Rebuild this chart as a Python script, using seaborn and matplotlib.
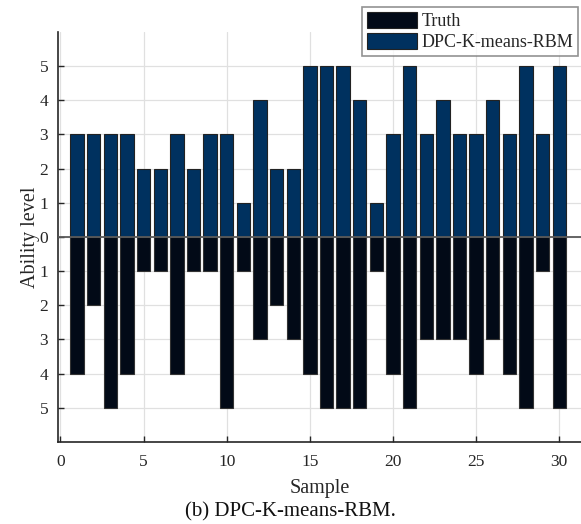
import numpy as np
import pandas as pd
import seaborn as sns
import matplotlib.pyplot as plt
from matplotlib.patches import Patch

# ability levels per sample
samples = list(range(1, 31))
dpc_levels = [3, 3, 3, 3, 2, 2, 3, 2, 3, 3, 1, 4, 2, 2, 5, 5, 5, 4, 1, 3,
              5, 3, 4, 3, 3, 4, 3, 5, 3, 5]
truth_levels = [4, 2, 5, 4, 1, 1, 4, 1, 1, 5, 1, 3, 2, 3, 4, 5, 5, 5, 1, 4,
                5, 3, 3, 3, 4, 3, 4, 5, 1, 5]
y_ticks = [-5, -4, -3, -2, -1, 0, 1, 2, 3, 4, 5]
x_ticks = [0, 5, 10, 15, 20, 25, 30]

DPC_COLOR = "#00315f"
TRUTH_COLOR = "#020a17"

sns.set_style("white")
plt.rcParams["font.family"] = ["Liberation Serif", "DejaVu Serif"]

df = pd.DataFrame({"sample": samples, "dpc": dpc_levels,
                   "truth": [-v for v in truth_levels]})

fig = plt.figure(figsize=(5.81, 5.24), dpi=100)
ax = fig.add_axes([0.0998, 0.1565, 0.9, 0.7825])

sns.barplot(data=df, x="sample", y="dpc", native_scale=True, width=0.8,
            color=DPC_COLOR, edgecolor="#222222", linewidth=0.8,
            saturation=1, ax=ax, zorder=2)
sns.barplot(data=df, x="sample", y="truth", native_scale=True, width=0.8,
            color=TRUTH_COLOR, edgecolor="#333333", linewidth=0.8,
            saturation=1, ax=ax, zorder=2)

ax.axhline(0, color="#5a5a5a", lw=1.3, zorder=3)
ax.set_xlim(-0.15, 31.3)
ax.set_ylim(-6, 6)
ax.set_xticks(x_ticks)
ax.set_yticks(y_ticks)
ax.set_yticklabels([str(abs(v)) for v in y_ticks])
ax.grid(True, color="#e0e0e0", lw=0.9)
ax.set_axisbelow(True)
ax.tick_params(bottom=True, left=True, direction="in", length=4, width=1,
               labelsize=12.5, colors="#262626", labelcolor="#262626")
ax.tick_params(axis="x", pad=9)
ax.tick_params(axis="y", pad=7)
for side in ["top", "right"]:
    ax.spines[side].set_visible(False)
for side in ["left", "bottom"]:
    ax.spines[side].set_color("#262626")
    ax.spines[side].set_linewidth(1.2)

ax.set_xlabel("Sample", fontsize=14.5, color="#262626", labelpad=6)
ax.set_ylabel("Ability level", fontsize=14.5, color="#262626", labelpad=0)

handles = [Patch(facecolor=TRUTH_COLOR, edgecolor="#222222", lw=0.8),
           Patch(facecolor=DPC_COLOR, edgecolor="#222222", lw=0.8)]
leg = fig.legend(handles, ["Truth", "DPC-K-means-RBM"], loc="upper right",
                 bbox_to_anchor=(0.995, 0.986), fontsize=13, frameon=True,
                 fancybox=False, edgecolor="#777777", borderpad=0.25,
                 handlelength=2.8, handleheight=1.0, handletextpad=0.25,
                 labelspacing=0.15, borderaxespad=0)
leg.get_frame().set_linewidth(1.2)

fig.text(0.5, 0.004, "(b) DPC-K-means-RBM.", ha="center", va="bottom",
         fontsize=15, color="#111111")

fig.savefig("out.png", dpi=100)
